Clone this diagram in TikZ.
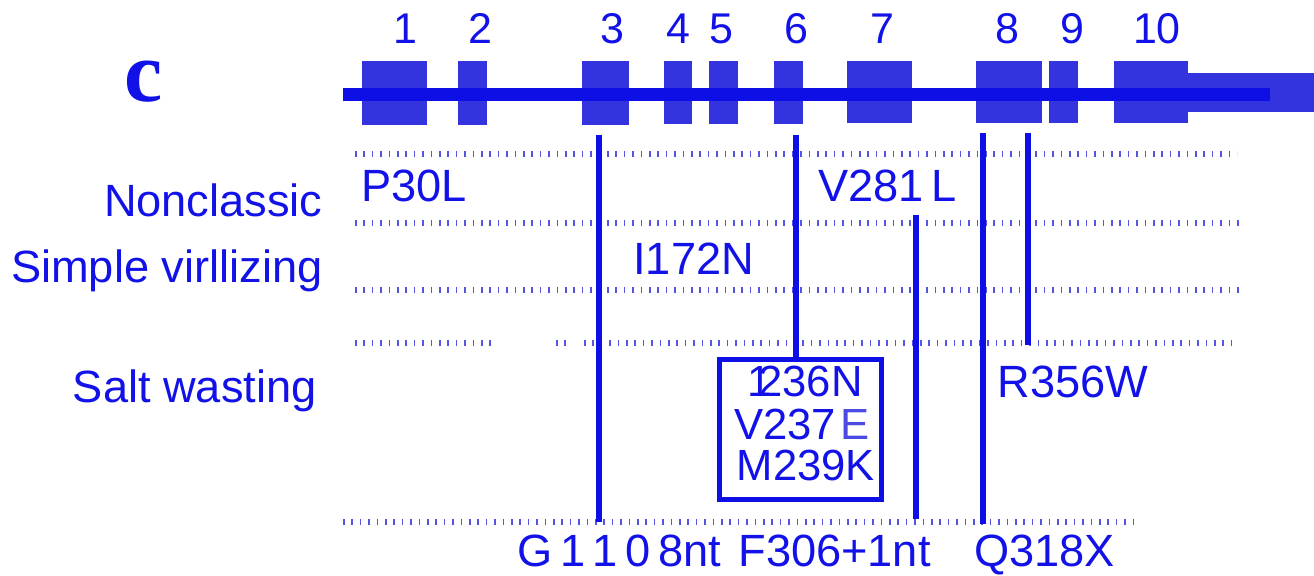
\documentclass[tikz,border=0pt]{standalone}
\usepackage{fontspec}
\setmainfont{Liberation Sans}
\newfontfamily\serifc{Liberation Serif}
\definecolor{txtblue}{RGB}{18,18,232}
\definecolor{exonblue}{RGB}{52,52,222}
\definecolor{lineblue}{RGB}{14,14,230}
\definecolor{dotblue}{RGB}{85,85,228}
\definecolor{paleblue}{RGB}{75,75,228}
\begin{document}
\begin{tikzpicture}[x=0.5pt,y=-0.5pt,
  lbl/.style={text=txtblue,font=\fontsize{22.6}{26}\selectfont,inner sep=0pt},
  boxlbl/.style={text=txtblue,font=\fontsize{21.8}{26}\selectfont,inner sep=0pt,anchor=base},
  exonnum/.style={text=txtblue,font=\fontsize{21.5}{24}\selectfont,inner sep=0pt,anchor=base},
  exon/.style={fill=exonblue,draw=none},
  dotrow/.style={draw=dotblue,line width=2.6pt,dash pattern=on 0.8pt off 3.4pt},
  vline/.style={draw=lineblue,line width=2.8pt},
  boxframe/.style={draw=lineblue,line width=2.5pt,minimum width=81pt,minimum height=70pt,inner sep=0pt}
]
\useasboundingbox (0,0) rectangle (1314,576);

% panel letter
\node[text=txtblue,font=\serifc\bfseries\fontsize{43}{46}\selectfont,inner sep=0pt,anchor=base] (panel) at (144,102) {c};

% exon numbers
\node[exonnum] (n1) at (405,44) {1};
\node[exonnum] (n2) at (480,44) {2};
\node[exonnum] (n3) at (612,44) {3};
\node[exonnum] (n4) at (678,44) {4};
\node[exonnum] (n5) at (721,44) {5};
\node[exonnum] (n6) at (796,44) {6};
\node[exonnum] (n7) at (882,44) {7};
\node[exonnum] (n8) at (1007,44) {8};
\node[exonnum] (n9) at (1072,44) {9};
\node[exonnum] (n10) at (1157,44) {10};

% exons
\fill[exon] (362,61) rectangle (427,125);
\fill[exon] (458,61) rectangle (487,125);
\fill[exon] (582,61) rectangle (629,125);
\fill[exon] (664,61) rectangle (692,124);
\fill[exon] (709,61) rectangle (738,124);
\fill[exon] (774,61) rectangle (803,124);
\fill[exon] (847,61) rectangle (912,123);
\fill[exon] (976,61) rectangle (1042,123);
\fill[exon] (1049,61) rectangle (1078,123);
\fill[exon] (1114,61) rectangle (1188,123);
\fill[exon] (1188,73) rectangle (1314,112);
% backbone
\draw[lineblue,line width=6.5pt] (343,94.5) -- (1270,94.5);

% dotted rows
\draw[dotrow] (355,154) -- (1237,154);
\draw[dotrow] (355,223) -- (1242,223);
\draw[dotrow] (355,290) -- (1242,290);
\draw[dotrow] (355,343) -- (493,343);
\draw[dotrow] (556,343) -- (572,343);
\draw[dotrow] (584,343) -- (1237,343);
\draw[dotrow] (343,522) -- (1140,522);

% category labels
\node[lbl,anchor=base east] (nonclassic) at (323,217) {Nonclassic};
\node[lbl,anchor=base east] (simple) at (323,283) {Simple virllizing};
\node[lbl,anchor=base east] (salt) at (317,403) {Salt wasting};

% mutation labels
\node[lbl,anchor=base west] (p30l) at (361,202) {P30L};
\node[lbl,anchor=base west] (v281l) at (818,202) {V281\,L};
\node[lbl,anchor=base west] (i172n) at (633,275) {I172N};
\node[lbl,anchor=base west] (r356w) at (997,398) {R356W};
\node[lbl,anchor=base west] (g1108) at (517,567) {G\,1\,1\,0\,8nt};
\node[lbl,anchor=base west] (f306) at (738,567) {F306+1nt};
\node[lbl,anchor=base west] (q318x) at (974,567) {Q318X};

% salt-wasting cluster box
\node[boxframe] (box) at (800.5,429.5) {};
\node[boxlbl] (m236) at (805,397) {1\kern-0.3em 236N};
\node[boxlbl] (m237) at (802,440) {V237\kern0.1em{\color{paleblue}E}};
\node[boxlbl] (m239) at (806,481) {M239K};

% vertical connectors
\coordinate (aT) at (599,135);
\coordinate (aB) at (599,522);
\coordinate (bT) at (796,135);
\coordinate (cT) at (916,215);
\coordinate (cB) at (916,519);
\coordinate (dT) at (983,133);
\coordinate (dB) at (983,524);
\coordinate (eT) at (1028,133);
\coordinate (eB) at (1028,345);
\draw[vline] (aT) -- (aB);
\draw[vline] (bT) -- (bT |- box.north);
\draw[vline] (cT) -- (cB);
\draw[vline] (dT) -- (dB);
\draw[vline] (eT) -- (eB);
\end{tikzpicture}
\end{document}
